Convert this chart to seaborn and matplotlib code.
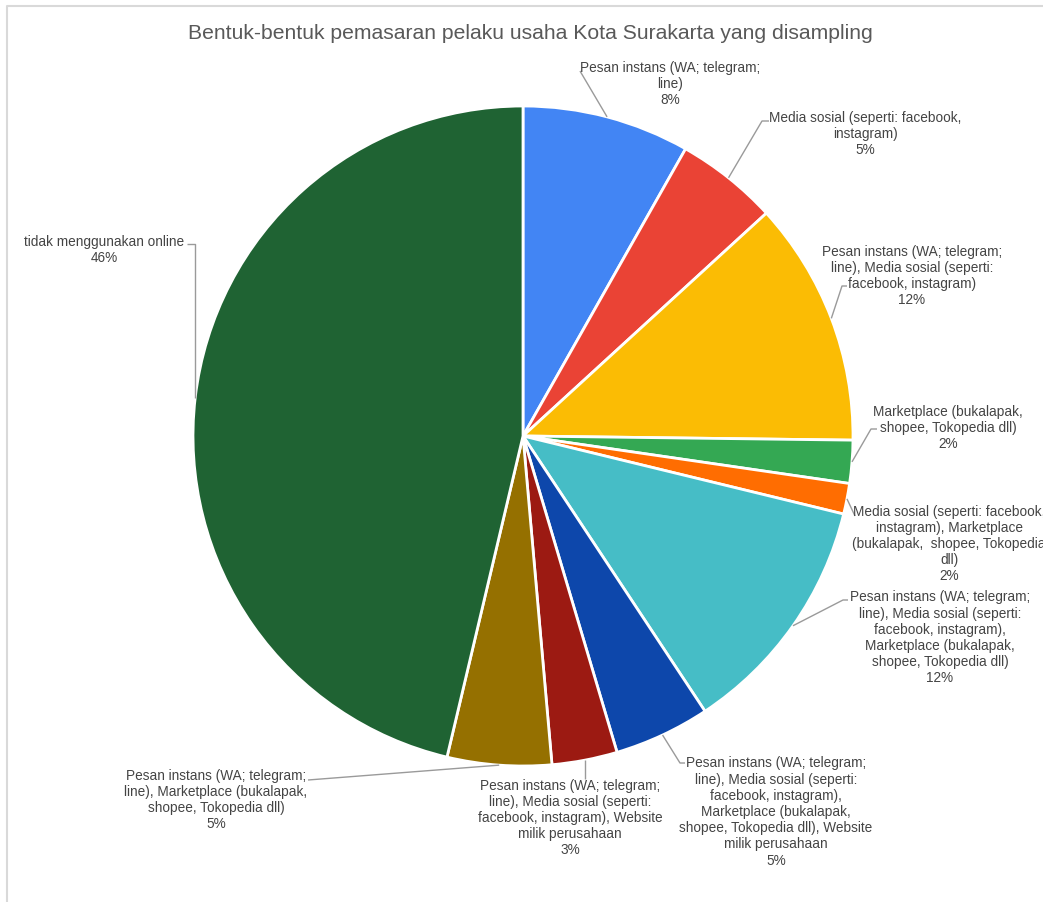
import matplotlib
matplotlib.use("Agg")
import matplotlib.pyplot as plt
import numpy as np
import seaborn as sns

# Share of sampled businesses per marketing channel (percent)
categories = [
    "Pesan instans (WA; telegram;\nline)",
    "Media sosial (seperti: facebook,\ninstagram)",
    "Pesan instans (WA; telegram;\nline), Media sosial (seperti:\nfacebook, instagram)",
    "Marketplace (bukalapak,\nshopee, Tokopedia dll)",
    "Media sosial (seperti: facebook,\ninstagram), Marketplace\n(bukalapak,  shopee, Tokopedia\ndll)",
    "Pesan instans (WA; telegram;\nline), Media sosial (seperti:\nfacebook, instagram),\nMarketplace (bukalapak,\nshopee, Tokopedia dll)",
    "Pesan instans (WA; telegram;\nline), Media sosial (seperti:\nfacebook, instagram),\nMarketplace (bukalapak,\nshopee, Tokopedia dll), Website\nmilik perusahaan",
    "Pesan instans (WA; telegram;\nline), Media sosial (seperti:\nfacebook, instagram), Website\nmilik perusahaan",
    "Pesan instans (WA; telegram;\nline), Marketplace (bukalapak,\nshopee, Tokopedia dll)",
    "tidak menggunakan online",
]
shares = [8.2, 5.0, 12.0, 2.1, 1.5, 11.9, 4.7, 3.2, 5.1, 46.3]
colors = ["#4285F4", "#EA4335", "#FBBC04", "#34A853", "#FF6D01",
          "#46BDC6", "#0D47AB", "#9C1A12", "#957000", "#1F6333"]
title = "Bentuk-bentuk pemasaran pelaku usaha Kota Surakarta yang disampling"

W, H = 1043, 903
sns.set_theme(style="white")
plt.rcParams["font.family"] = ["Liberation Sans", "DejaVu Sans"]


def Y(p):
    return H - p


fig = plt.figure(figsize=(W / 100, H / 100), dpi=100)
ax = fig.add_axes([0, 0, 1, 1])

cx, cy, r = 523, Y(437), 330
palette = sns.color_palette(colors)
wedges, _ = ax.pie(shares, colors=palette, startangle=90, counterclock=False,
                   center=(cx, cy), radius=r,
                   wedgeprops=dict(edgecolor="white", linewidth=2))
ax.set_xlim(0, W)
ax.set_ylim(0, H)
ax.set_aspect("equal")
ax.axis("off")

# label block centres and leader-line bends (pixel layout)
layout = [
    dict(text=(670, 84), bend=[(580, 72)]),
    dict(text=(865, 134), bend=[(762, 122), (769, 122)]),
    dict(text=(912, 276), bend=[(842, 287), (847, 287)]),
    dict(text=(948, 428), bend=[(871, 430), (877, 430)]),
    dict(text=(949, 544), bend=[(855, 517)]),
    dict(text=(940, 638), bend=[(843, 601), (848, 601)]),
    dict(text=(776, 812), bend=[(680, 764), (685, 764)]),
    dict(text=(570, 818), bend="down"),
    dict(text=(216, 800), bend=[(308, 781)]),
    dict(text=(104, 250), bend="up"),
]

for w, lab, val, lay in zip(wedges, categories, shares, layout):
    mid = np.deg2rad((w.theta1 + w.theta2) / 2)
    ex, ey = cx + r * np.cos(mid), cy + r * np.sin(mid)
    if lay["bend"] == "down":
        pts = [(ex, ey), (ex, Y(780))]
    elif lay["bend"] == "up":
        pts = [(ex, ey), (ex, Y(245)), (ex - 8, Y(245))]
    else:
        pts = [(ex, ey)] + [(px, Y(py)) for px, py in lay["bend"]]
    xs, ys = zip(*pts)
    ax.plot(xs, ys, color="#9a9a9a", lw=1, solid_capstyle="butt")
    tx, ty = lay["text"]
    ax.text(tx, Y(ty), f"{lab}\n{val:.0f}%", ha="center", va="center",
            fontsize=9.8, color="#444444", linespacing=1.2)

ax.text(530, Y(33), title, ha="center", va="center", fontsize=15.2,
        color="#595959")

# thin frame along the top and left edges
ax.plot([7, 7, W], [0, Y(7), Y(7)], color="#d9d9d9", lw=1.5)

fig.savefig("out.png", dpi=100, facecolor="white")
